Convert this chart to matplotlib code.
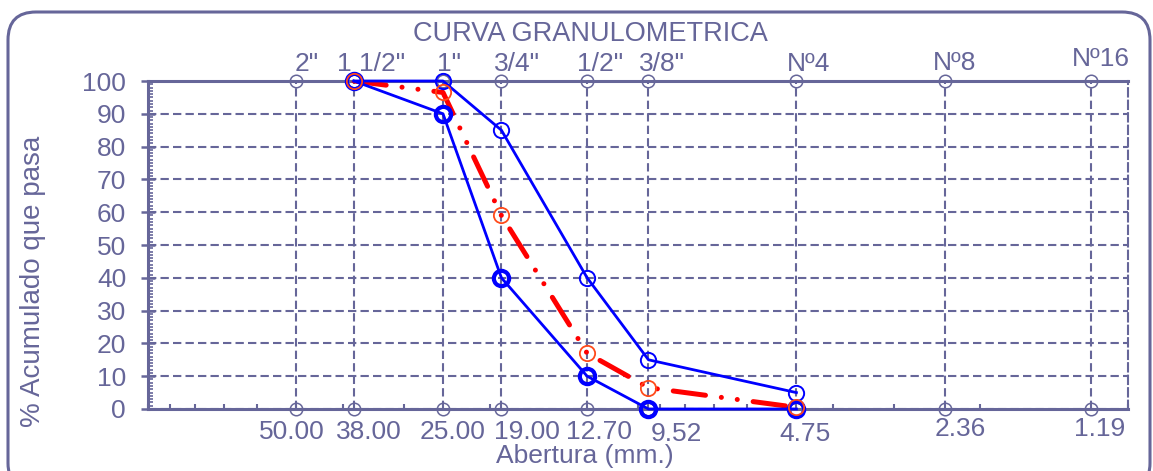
import matplotlib
matplotlib.use('Agg')
import matplotlib.pyplot as plt
from matplotlib.ticker import MultipleLocator, LogLocator, NullFormatter
from matplotlib.patches import FancyBboxPatch
from matplotlib.transforms import IdentityTransform

# --- data ---
sieve_names = ['2"', '1 1/2"', '1"', '3/4"', '1/2"', '3/8"', 'Nº4', 'Nº8', 'Nº16']
sieve_mm = [50.00, 38.00, 25.00, 19.00, 12.70, 9.52, 4.75, 2.36, 1.19]
sieve_mm_labels = ['50.00', '38.00', '25.00', '19.00', '12.70', '9.52', '4.75', '2.36', '1.19']

curve_mm = [38.00, 25.00, 19.00, 12.70, 9.52, 4.75]
upper_limit = [100, 100, 85, 40, 15, 5]
lower_limit = [100, 90, 40, 10, 0, 0]
sample = [100, 96.5, 59, 17, 6.5, 0.5]

# label nudges in pixels (style only)
top_dx = [11, 17, 6, 16, 13, 14, 12, 9, 10]
top_dy = [10, 10, 10, 10, 10, 10, 10, 11, 15]
bot_dx = [-4, 15, 10, 26, 12, 28, 9, 15, 9]
bot_dy = [-23, -23, -23, -23, -23, -25, -25, -20, -20]

slate = '#666699'
plt.rcParams['font.family'] = ['Liberation Sans', 'DejaVu Sans']
fs = 19

fig = plt.figure(figsize=(11.53, 4.71), dpi=100)
ax = fig.add_axes([148 / 1153, 62 / 471, 980 / 1153, 328 / 471])

ax.set_xscale('log')
ax.set_xlim(100, 1)
ax.set_ylim(0, 100)

# grid
dash = (0, (4, 2))
ax.vlines(sieve_mm, 0, 100, colors=slate, linestyles=dash, lw=1.5, zorder=1)
ax.yaxis.set_major_locator(MultipleLocator(10))
ax.yaxis.set_minor_locator(MultipleLocator(1))
ax.yaxis.grid(True, which='major', color=slate, linestyle=dash, lw=1.5, zorder=1)

# spines
for s in ['left', 'bottom', 'top']:
    ax.spines[s].set_color(slate)
    ax.spines[s].set_linewidth(2.2)
ax.spines['right'].set_color(slate)
ax.spines['right'].set_linewidth(1.5)
ax.spines['right'].set_linestyle(dash)

# ticks
ax.xaxis.set_major_locator(LogLocator(base=10, subs=(1.0,)))
ax.xaxis.set_minor_locator(LogLocator(base=10, subs=range(2, 10)))
ax.xaxis.set_major_formatter(NullFormatter())
ax.xaxis.set_minor_formatter(NullFormatter())
ax.tick_params(axis='x', which='both', direction='in', length=3.5, width=1.5,
               color=slate, top=False)
ax.tick_params(axis='y', which='major', direction='inout', length=9.5, width=1.8,
               color=slate, labelcolor=slate, labelsize=fs, pad=11)
ax.tick_params(axis='y', which='minor', direction='in', length=3.5, width=1.2,
               color=slate)
ax.tick_params(axis='y', right=False, which='both')

# sieve reference markers on top and bottom axes
for yv in ax.get_ylim():
    ax.plot(sieve_mm, [yv] * len(sieve_mm), 'o', mfc='none', mec=slate,
            ms=9, mew=1.1, clip_on=False, zorder=3)

# curves
ax.plot(curve_mm, upper_limit, '-', color='#0000FF', lw=2, marker='o', mfc='none',
        mec='#0000FF', ms=11, mew=1.4, clip_on=False, zorder=5)
ax.plot(curve_mm, lower_limit, '-', color='#0000FF', lw=2, marker='o', mfc='none',
        mec='#0000FF', ms=11, mew=3, clip_on=False, zorder=5)
ax.plot(curve_mm, sample, color='#FF0000', lw=3.6,
        linestyle=(0, (6.5, 3.2, 0.01, 3.2, 0.01, 3.2)),
        dash_capstyle='round', zorder=4)
ax.plot(curve_mm, sample, 'o', mfc='none', mec='#FF4A1A', ms=11, mew=1.3,
        clip_on=False, zorder=6)

# sieve labels
for x, name, dx, dy in zip(sieve_mm, sieve_names, top_dx, top_dy):
    ax.annotate(name, (x, 100), xytext=(dx, dy), textcoords='offset pixels',
                ha='center', va='baseline', fontsize=fs, color=slate)
for x, lab, dx, dy in zip(sieve_mm, sieve_mm_labels, bot_dx, bot_dy):
    ax.annotate(lab, (x, 0), xytext=(dx, dy), textcoords='offset pixels',
                ha='center', va='center', fontsize=fs, color=slate)

fig.text(590 / 1153, 1 - 34 / 471, 'CURVA GRANULOMETRICA', ha='center', va='center',
         fontsize=19.5, color=slate)
fig.text(585 / 1153, 1 - 456 / 471, 'Abertura (mm.)', ha='center', va='center',
         fontsize=fs, color=slate)
fig.text(33 / 1153, 1 - 281 / 471, '% Acumulado que pasa', ha='center', va='center',
         rotation=90, fontsize=20, color=slate)

# rounded frame around the whole chart
frame = FancyBboxPatch((8, -20), 1142, 479,
                       boxstyle='round,pad=0,rounding_size=28',
                       transform=IdentityTransform(), fill=False,
                       edgecolor=slate, lw=2.2)
fig.add_artist(frame)

fig.savefig('out.png', dpi=100)
